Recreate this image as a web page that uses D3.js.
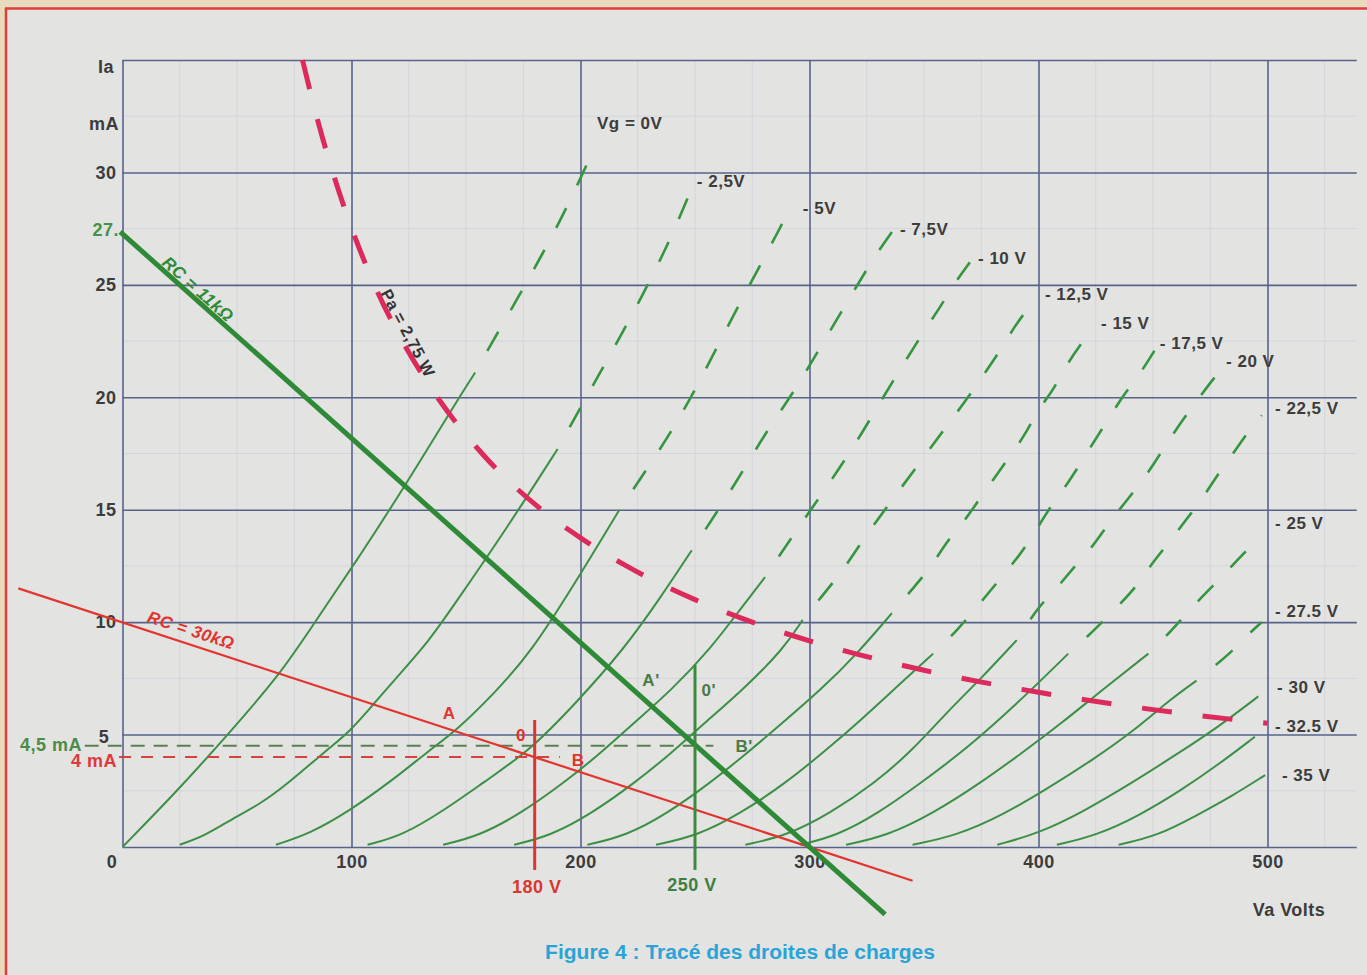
<!DOCTYPE html>
<html>
<head>
<meta charset="utf-8">
<script src="https://cdn.jsdelivr.net/npm/d3@7"></script>
<style>
body { margin: 0; background: #e8dbbd; }
svg { display: block; }
text { font-family: 'Liberation Sans', Arial, sans-serif; font-weight: bold; }
</style>
</head>
<body>
<svg></svg>
<script>
// --- data (Va in volts, Ia in mA) ---
var gridVolts = [0, 100, 200, 300, 400, 500];
var gridMa = [0, 5, 10, 15, 20, 25, 30, 35];
var xTicks = [100, 200, 300, 400, 500];
var yTicks = [30, 25, 20, 15, 10];

var vg0 = [[0,0],[24,2.5],[46,5],[69,7.7],[84,10],[104,13],[123,16],[147,20],[154,21.1],[160,22.2],[172,24.3],[183,26.3],[194,28.4],[207,31.3]];
var vg2_5 = [[25,0.1],[36,0.5],[47,1.2],[60,1.9],[72,2.8],[89,4.3],[99,5.1],[110,6.4],[122,7.8],[134,9.2],[143,10.5],[168,14.2],[190,17.7],[208,21],[219,23],[230,25.1],[240,27.2],[249,29.4]];
var vg5 = [[67,0.1],[82,0.6],[99,1.6],[117,2.9],[134,4.3],[146,5.2],[162,6.8],[178,8.6],[198,11.8],[217,15],[231,17.1],[243.5,19.1],[254,21.1],[265,23.3],[276,25.4],[287,27.5],[292,28.5]];
var vg7_5 = [[107,0.1],[122,0.5],[140,1.6],[158,2.9],[178,4.3],[198,6.4],[219,8.8],[235,11.1],[248.6,13.2],[268,16.2],[280.6,18.4],[293,20.2],[304.6,22.2],[316.8,24.3],[328.6,26.3],[337,27.5]];
var vg10 = [[140,0.1],[156,0.5],[174,1.5],[192,2.8],[208,4.1],[222,5.4],[240,7],[256.6,8.8],[270,10.6],[280.6,12],[293.7,14],[306.8,15.9],[320,17.9],[331.5,19.9],[343,21.8],[351,23.1],[357,24],[363.5,25.1],[370,26]];
var vg12_5 = [[171,0.1],[187,0.5],[205,1.5],[223,2.8],[240,4.2],[254,5.5],[271,7],[288.6,8.8],[297,10.1],[309,11.6],[316,12.5],[323.5,13.7],[338,15.7],[350.4,17.4],[359,18.6],[368.6,19.9],[377.4,21.2],[384,22.2],[391,23.4],[398.5,24.3]];
var vg15 = [[203,0.1],[220,0.5],[238,1.5],[256,2.8],[273,4.2],[288,5.5],[305,7],[320,8.5],[336,10.4],[346,11.6],[353.4,12.5],[360,13.6],[367,14.4],[373.7,15.4],[380,16.3],[387.6,17.4],[394,18.3],[400,19.5],[405.8,20.2],[412,21.4],[418,22.3],[424.7,23.2]];
var vg17_5 = [[233,0.1],[251,0.5],[270,1.5],[289,2.8],[306,4.2],[322,5.6],[340,7.3],[354,8.6],[364.3,9.6],[376.6,11.1],[384.6,12.1],[392,13],[399,14.1],[405,15.1],[411.6,16],[417.4,16.9],[424,18],[429.8,18.9],[437,20.1],[443.5,20.9],[452,22.3]];
var vg20 = [[272,0.1],[290,0.5],[309,1.5],[328,2.8],[345,4.3],[360,6],[375,7.5],[390.5,9.2],[400,10.7],[408,11.5],[415,12.4],[422.5,13.2],[430,14.3],[436,15.1],[444,16.1],[450.8,17.1],[457,18.1],[463,19],[471,20.1],[477,20.9],[481,21.4]];
var vg22_5 = [[296,0.1],[312,0.5],[330,1.5],[348,2.8],[365,4.1],[380,5.4],[397,7],[413,8.6],[422,9.4],[435.6,10.8],[442.9,11.6],[449.4,12.6],[456.7,13.5],[464,14.5],[471,15.4],[477.8,16.5],[484.4,17.4],[491,18.4],[497.5,19.2]];
var vg25 = [[316,0.1],[334,0.5],[354,1.5],[374,2.8],[393,4.2],[410,5.5],[428,7],[448,8.6],[456,9.4],[463,10.2],[472,11.2],[480,12],[488,12.9],[496,13.7]];
var vg27_5 = [[345,0.1],[364,0.5],[384,1.4],[404,2.6],[424,3.9],[442,5.2],[458,6.6],[469,7.4],[475,7.9],[483.6,8.6],[492,9.5],[497.5,10]];
var vg30 = [[382,0.1],[400,0.6],[420,1.6],[440,2.8],[460,4.1],[478,5.3],[496,6.7]];
var vg32_5 = [[408,0.1],[425,0.5],[444,1.4],[462,2.5],[479,3.7],[494.5,4.9]];
var vg35 = [[435,0.1],[452,0.5],[469,1.4],[485,2.3],[499,3.2]];

var gridCurves = [vg0, vg2_5, vg5, vg7_5, vg10, vg12_5, vg15, vg17_5, vg20, vg22_5, vg25, vg27_5, vg30, vg32_5, vg35];
// current above which each curve is drawn dashed
var solidTo = [21.1, 17.7, 15, 13.2, 12, 10.1, 10.4, 8.6, 9.2, 8.6, 8.6, 7.4, 99, 99, 99];

var vgLabels = ['Vg = 0V', '- 2,5V', '- 5V', '- 7,5V', '- 10 V', '- 12,5 V', '- 15 V', '- 17,5 V', '- 20 V', '- 22,5 V', '- 25 V', '- 27.5 V', '- 30 V', '- 32.5 V', '- 35 V'];
var vgLabelAt = [[207.2,32.2],[250.8,29.6],[297.1,28.4],[339.5,27.5],[373.6,26.2],[402.8,24.6],[427.3,23.3],[453,22.4],[481.9,21.6],[503.3,19.5],[503.3,14.4],[503.3,10.5],[504.2,7.1],[503.3,5.4],[506.3,3.2]];

// max anode dissipation Pa = 2,75 W
var paCurve = [[78.6,35],[85,32.4],[95,29],[110,25],[125,22],[137.5,20],[157,17.5],[183,15],[200,13.75],[220,12.5],[250,11],[275,10],[300,9.17],[350,7.86],[400,6.88],[450,6.11],[500,5.5]];

// load lines [Va, Ia]
var load11k = [[-1,27.36],[333,-3]];
var load30k = [[-45.5,11.5],[345,-1.5]];

// operating point guides
var guideMa = [4.5, 4];
var guideFrom = [-16.5, -1.5];
var guideTo = [258, 191];
var markVolts = [180, 250];
var markTop = [5.65, 8.1];

var pointLabels = ['A', '0', 'B', "A'", "0'", "B'"];
var pointAt = [[142.6,5.96],[174,4.98],[199,3.87],[230.8,7.43],[256,6.98],[271.5,4.49]];

// --- drawing ---
var W = 1367, H = 975;
var svg = d3.select('svg').attr('width', W).attr('height', H);

var x = d3.scaleLinear().domain([0, 500]).range([122.5, 1267.5]);
var y = d3.scaleLinear().domain([0, 35]).range([847, 60]);
var vMax = 539;

svg.append('rect').attr('width', W).attr('height', H).attr('fill', '#e8dbbd');
svg.append('rect').attr('x', 6).attr('y', 8).attr('width', W).attr('height', H).attr('fill', '#e3e3e1');
svg.append('line').attr('x1', 5).attr('x2', W).attr('y1', 8.5).attr('y2', 8.5)
    .attr('stroke', '#df3d36').attr('stroke-width', 2.5);
svg.append('line').attr('x1', 6).attr('x2', 6).attr('y1', 8).attr('y2', H)
    .attr('stroke', '#df3d36').attr('stroke-width', 2.5);

// faint paper lines
var faint = svg.append('g').attr('stroke', '#d3d5db').attr('stroke-width', 1);
faint.selectAll('line.fv')
    .data(d3.range(25, vMax, 25).filter(v => v % 100 !== 0))
    .enter().append('line')
        .attr('x1', d => x(d)).attr('x2', d => x(d))
        .attr('y1', y(35)).attr('y2', y(0));
faint.selectAll('line.fh')
    .data(d3.range(2.5, 35, 5))
    .enter().append('line')
        .attr('x1', x(0)).attr('x2', x(vMax))
        .attr('y1', d => y(d)).attr('y2', d => y(d));

// main grid
var gridColor = '#58638c';
svg.append('g')
    .attr('transform', 'translate(0,' + y(0) + ')')
    .call(d3.axisBottom(x).tickValues(gridVolts).tickSize(-(y(0) - y(35))).tickFormat(''))
    .call(g => g.select('.domain').remove())
    .call(g => g.selectAll('line').attr('stroke', gridColor).attr('stroke-width', 1.6));
svg.append('g')
    .attr('transform', 'translate(' + x(0) + ',0)')
    .call(d3.axisLeft(y).tickValues(gridMa).tickSize(-(x(vMax) - x(0))).tickFormat(''))
    .call(g => g.select('.domain').remove())
    .call(g => g.selectAll('line').attr('stroke', gridColor).attr('stroke-width', 1.6));

// tick labels
var labelColor = '#3c3c3c';
svg.append('g')
    .attr('transform', 'translate(' + x(0) + ',0)')
    .call(d3.axisLeft(y).tickValues(yTicks).tickSize(0).tickPadding(6))
    .call(g => g.select('.domain').remove())
    .call(g => g.selectAll('text').attr('fill', labelColor).style('font-size', '18px').style('letter-spacing', '0.5px'));
svg.append('g')
    .attr('transform', 'translate(0,' + y(0) + ')')
    .call(d3.axisBottom(x).tickValues(xTicks).tickSize(0).tickPadding(8))
    .call(g => g.select('.domain').remove())
    .call(g => g.selectAll('text').attr('fill', labelColor).style('font-size', '18px').style('letter-spacing', '0.5px'));

function txt(s, px, py, opts) {
    opts = opts || {};
    return svg.append('text')
        .attr('x', px).attr('y', py)
        .attr('dy', '0.35em')
        .attr('text-anchor', opts.anchor || 'middle')
        .attr('fill', opts.color || labelColor)
        .style('font-size', (opts.size || 18) + 'px')
        .style('letter-spacing', (opts.ls === undefined ? 0.5 : opts.ls) + 'px')
        .style('font-style', opts.italic ? 'italic' : 'normal')
        .text(s);
}

txt('0', 112, 862);
txt('Ia', 106, 67);
txt('mA', 104, 124);
txt('5', 104, 737);
txt('27.', 119, 230, {anchor: 'end', color: '#3f9447'});
txt('4,5 mA', 82, 745, {anchor: 'end', color: '#4d8c48'});
txt('4 mA', 117, 761, {anchor: 'end', color: '#e0393a'});
txt('Va Volts', 1289, 910);

// characteristic curves
var curveLine = d3.line()
    .x(d => x(d[0]))
    .y(d => y(d[1]))
    .curve(d3.curveBasis);

var curveG = svg.append('g').attr('fill', 'none');
gridCurves.forEach((pts, i) => {
    var lim = solidTo[i];
    var solid = pts.filter(p => p[1] <= lim + 1e-6);
    var dashed = pts.filter(p => p[1] >= lim - 1e-6);
    curveG.append('path')
        .attr('d', curveLine(solid))
        .attr('stroke', '#3c9046')
        .attr('stroke-width', 2);
    if (dashed.length > 1) {
        curveG.append('path')
            .attr('d', curveLine(dashed))
            .attr('stroke', '#35963f')
            .attr('stroke-width', 2.6)
            .attr('stroke-dasharray', '22,25')
            .attr('stroke-dashoffset', 22);
    }
});

// curve labels
vgLabels.forEach((s, i) => {
    txt(s, x(vgLabelAt[i][0]), y(vgLabelAt[i][1]), {anchor: 'start', size: 17});
});

// Pa hyperbola
var paLine = d3.line().x(d => x(d[0])).y(d => y(d[1])).curve(d3.curveMonotoneX);
svg.append('path')
    .attr('d', paLine(paCurve))
    .attr('fill', 'none')
    .attr('stroke', '#dc2a5c')
    .attr('stroke-width', 5)
    .attr('stroke-dasharray', '30,31');
txt('Pa = 2,75 W', 0, 0, {size: 16.5, color: '#333'})
    .attr('transform', 'translate(408,333) rotate(62)');

// guide lines at the operating points
var guideColors = ['#5a8052', '#d4423c'];
var guideDash = ['14,9', '12,10'];
guideMa.forEach((ma, i) => {
    svg.append('line')
        .attr('x1', x(guideFrom[i])).attr('x2', x(guideTo[i]))
        .attr('y1', y(ma)).attr('y2', y(ma))
        .attr('stroke', guideColors[i])
        .attr('stroke-width', 2)
        .attr('stroke-dasharray', guideDash[i]);
});

// load lines
var straight = d3.line().x(d => x(d[0])).y(d => y(d[1]));
svg.append('path').attr('d', straight(load30k))
    .attr('stroke', '#e3352f').attr('stroke-width', 2.2).attr('fill', 'none');
svg.append('path').attr('d', straight(load11k))
    .attr('stroke', '#2f8a37').attr('stroke-width', 5).attr('fill', 'none');

// vertical markers
var markColors = ['#d9372f', '#3c8a3e'];
markVolts.forEach((v, i) => {
    svg.append('line')
        .attr('x1', x(v)).attr('x2', x(v))
        .attr('y1', y(markTop[i])).attr('y2', y(-1.02))
        .attr('stroke', markColors[i])
        .attr('stroke-width', 3);
});
txt('180 V', x(180) + 2, 887, {color: '#d9372f'});
txt('250 V', x(250) - 3, 885, {color: '#3f7f45'});

// load line labels
txt('RC = 11kΩ', 0, 0, {size: 17, color: '#2f8a37', italic: true})
    .attr('transform', 'translate(198,289) rotate(41.7)');
txt('RC = 30kΩ', 0, 0, {size: 17, color: '#e0352f', italic: true})
    .attr('transform', 'translate(191,630) rotate(18)');

// point labels
pointLabels.forEach((s, i) => {
    txt(s, x(pointAt[i][0]), y(pointAt[i][1]), {color: i < 3 ? '#e0352f' : '#4a7a46', size: 17});
});

// caption
txt('Figure 4 : Tracé des droites de charges', 740, 952, {color: '#2aa4d8', size: 21, ls: 0});
</script>
</body>
</html>
